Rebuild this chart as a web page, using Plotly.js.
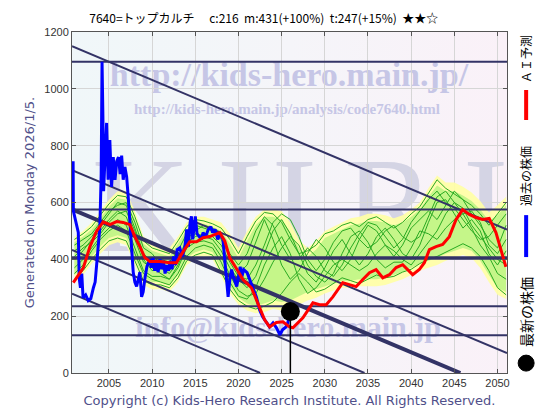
<!DOCTYPE html>
<html><head><meta charset="utf-8">
<script src="https://cdn.plot.ly/plotly-3.0.1.min.js"></script>
<style>
body{margin:0;padding:0;background:#fff;}
#wrap{position:relative;width:560px;height:420px;overflow:hidden;}
#bg{position:absolute;left:72px;top:32px;width:435px;height:341px;background:linear-gradient(90deg,#f0f7f9 0%,#f5f5f9 50%,#faf1f8 100%);}
.wm{position:absolute;font-family:"Liberation Serif",serif;font-weight:bold;color:#c6c6e6;white-space:nowrap;transform:translate(-50%,-50%);}
#plot{position:absolute;left:0;top:0;width:560px;height:420px;}
</style></head>
<body>
<div id="wrap">
 <div id="bg"></div>
 <div class="wm" style="left:289px;top:75px;font-size:34px;">http://kids-hero.main.jp/</div>
 <div class="wm" style="left:287px;top:109px;font-size:15px;">http://kids-hero.main.jp/analysis/code7640.html</div>
 <div class="wm" style="left:314px;top:205px;font-size:136px;font-weight:normal;color:#d4d4e4;letter-spacing:28px;">KHRI</div>
 <div class="wm" style="left:288px;top:327px;font-size:30px;">info@kids-hero.main.jp</div>
 <div id="plot"></div>
</div>
<script>
// ---- data ----
const blueX = [2000.85,2000.88,2001.45,2001.55,2001.7,2001.85,2002.0,2002.3,2002.6,2002.9,2003.2,2003.4,2003.6,2003.8,2003.95,2004.1,2004.2,2004.3,2004.38,2004.55,2004.73,2004.9,2005.1,2005.3,2005.5,2005.7,2005.9,2006.1,2006.3,2006.47,2006.65,2006.85,2007.05,2007.23,2007.43,2007.62,2007.81,2008.0,2008.2,2008.4,2008.58,2008.78,2008.96,2009.2,2009.4,2009.74,2009.9,2010.1,2010.3,2010.5,2010.7,2010.9,2011.1,2011.3,2011.5,2011.7,2011.9,2012.1,2012.3,2012.5,2012.7,2012.9,2013.2,2013.5,2013.8,2014.0,2014.2,2014.4,2014.55,2014.7,2015.0,2015.2,2015.45,2015.7,2015.9,2016.2,2016.5,2016.8,2017.0,2017.3,2017.6,2017.9,2018.2,2018.4,2018.6,2018.8,2019.0,2019.2,2019.4,2019.8,2020.0,2020.2,2020.4,2020.6,2021.0,2021.3,2021.7,2022.07,2022.45,2022.8,2023.2,2023.6,2024.0,2024.4,2024.8,2025.1,2025.5,2025.7,2026.01];
const blueY = [745,570,495,335,300,350,265,275,255,262,300,320,390,450,515,700,1095,900,640,760,880,680,820,655,760,680,745,760,700,765,680,725,690,620,515,425,355,320,305,330,355,268,285,340,375,400,370,405,360,390,355,400,365,395,350,380,360,395,365,410,380,434,440,410,445,505,445,530,551,470,551,490,480,470,494,480,505,515,494,505,470,490,470,400,360,268,329,364,339,304,339,374,339,364,353,329,304,268,222,198,180,162,176,159,134,152,162,176,216];

const redX = [2000.87,2002.03,2002.8,2003.58,2004.34,2005.11,2005.89,2006.65,2007.43,2008.0,2008.58,2009.16,2009.74,2010.9,2012.05,2012.82,2013.59,2014.36,2015.14,2015.9,2016.67,2017.83,2018.41,2018.99,2019.76,2020.52,2021.5,2022.07,2022.45,2023.03,2023.61,2024.39,2025.15,2025.92,2026.3,2027.46,2028.62,2029.39,2030.16,2030.93,2032.08,2032.86,2033.63,2034.4,2035.17,2035.94,2036.71,2037.48,2038.26,2039.02,2039.6,2040.18,2040.95,2041.53,2042.11,2042.88,2043.65,2044.42,2045.2,2045.96,2046.73,2047.5,2048.27,2049.04,2049.82,2050.4,2050.97];
const redY = [318,370,445,500,532,522,533,530,522,480,445,406,392,392,388,388,427,462,462,476,480,494,465,405,368,329,300,258,233,187,162,178,180,162,159,194,247,240,240,268,318,311,304,329,353,364,335,346,371,381,364,346,364,388,434,445,452,480,540,575,558,547,540,544,494,434,374];

const gYears = [2001,2002,2003,2004,2005,2006,2007,2008,2009,2010,2011,2012,2013,2014,2015,2016,2017,2018,2019,2020,2021,2022,2023,2024,2025,2026,2027,2028,2029,2030,2031,2032,2033,2034,2035,2036,2037,2038,2039,2040,2041,2042,2043,2044,2045,2046,2047,2048,2049,2050,2051];
const envUpper = [480,500,530,570,610,640,640,570,480,460,450,440,480,530,550,550,540,530,490,440,500,550,575,575,570,530,470,440,465,500,515,530,545,550,560,560,555,545,555,575,600,650,695,670,670,655,635,605,565,590,620];
const envLower = [320,345,385,420,450,460,450,380,310,295,295,285,320,380,400,410,400,340,280,240,220,210,215,225,220,225,240,255,265,280,290,300,300,305,305,305,310,320,330,345,360,370,380,395,405,415,405,370,320,275,260];
const greenUpper = [460,480,505,545,585,615,610,540,455,430,420,410,455,505,525,525,515,500,455,405,465,520,550,550,540,495,440,410,435,475,490,505,520,525,535,535,530,520,530,550,575,620,660,640,640,625,605,575,535,555,590];
const greenLower = [345,370,410,445,475,485,475,405,335,320,320,310,345,405,425,435,425,365,305,265,245,235,245,255,250,255,270,285,295,305,315,325,325,330,330,330,335,345,355,370,385,395,405,420,430,440,430,395,345,300,285];
const g1 = [470,490,515,555,595,625,620,550,465,440,430,420,465,515,540,535,525,510,470,420,480,535,565,560,530,470,420,430,450,490,500,520,530,515,540,550,530,510,530,560,585,635,680,650,630,610,590,560,520,560,600];
const g2 = [330,360,400,435,465,475,465,395,325,310,310,300,335,395,415,425,415,355,295,255,235,225,235,250,280,320,350,320,285,295,315,335,325,315,330,345,335,340,355,365,385,400,410,425,440,455,440,410,360,300,275];
const g3 = [400,430,470,500,540,570,550,470,390,370,350,330,380,450,490,480,470,430,370,330,300,340,420,500,540,490,420,350,320,370,430,470,420,380,420,480,510,470,420,400,450,530,600,610,560,510,540,500,420,380,430];
const g4 = [430,450,480,520,560,600,590,510,420,390,400,390,430,490,520,510,500,470,410,350,380,460,540,470,380,330,360,420,470,440,390,360,400,470,520,500,450,410,450,510,540,570,540,590,640,610,560,520,470,440,520];
const g5 = [370,400,440,480,510,540,520,440,360,340,340,330,370,440,460,465,455,410,345,290,270,280,330,390,440,480,450,380,340,320,350,420,480,500,460,400,370,390,390,440,500,490,470,510,540,560,510,450,410,350,330];
const g6 = [450,470,490,530,570,590,600,530,440,420,380,360,400,470,500,520,510,480,420,380,420,500,550,520,450,400,400,440,410,360,340,380,440,490,530,520,480,440,470,530,570,610,640,600,580,540,500,470,480,520,560];
const g7 = [350,380,430,470,500,520,500,420,350,330,320,310,350,410,440,450,440,390,320,270,260,300,380,440,480,420,330,280,300,340,380,400,380,360,380,420,450,430,400,380,420,460,500,560,600,580,520,480,440,400,380];
const g8 = [410,440,460,490,530,560,570,500,400,360,370,350,390,460,480,490,480,450,390,340,330,380,450,530,560,540,480,400,360,400,460,500,510,470,440,460,500,520,480,460,480,550,620,640,600,560,570,530,450,420,470];

const levelVals = [1095,575,405,235,133];
const levelWidths = [2,2,3.5,2,2];
const trendX0 = [2000.72,2000.72,2000.72,2000.72,2000.72];
const trendY0 = [1150,714,576,433,279];
const trendX1 = [2051.1,2051.1,2045.7,2034.6,2022.5];
const trendY1 = [505,70,0,0,0];
const trendWidths = [2,2,4,2,2];

const latestX = [2026.01];
const latestY = [216];

const xTicks = [2005,2010,2015,2020,2025,2030,2035,2040,2045,2050];
const xRange = [2000.72,2051.1];

// ---- traces ----
const traces = [];
traces.push({x:gYears,y:envLower,mode:'lines',line:{width:0},hoverinfo:'skip',showlegend:false});
traces.push({x:gYears,y:envUpper,mode:'lines',line:{width:0},fill:'tonexty',fillcolor:'rgba(255,255,165,0.92)',hoverinfo:'skip',showlegend:false});
traces.push({x:gYears,y:greenLower,mode:'lines',line:{width:0},hoverinfo:'skip',showlegend:false});
traces.push({x:gYears,y:greenUpper,mode:'lines',line:{width:0},fill:'tonexty',fillcolor:'rgba(150,238,110,0.55)',hoverinfo:'skip',showlegend:false});
[g1,g2,g3,g4,g5,g6,g7,g8].forEach(g=>traces.push({x:gYears,y:g,mode:'lines',line:{color:'#2aaa22',width:1},showlegend:false}));
levelVals.forEach((v,i)=>traces.push({x:xRange,y:[v,v],mode:'lines',line:{color:'#333366',width:levelWidths[i]},showlegend:false}));
trendY0.forEach((v,i)=>traces.push({x:[trendX0[i],trendX1[i]],y:[v,trendY1[i]],mode:'lines',line:{color:'#333366',width:trendWidths[i]},showlegend:false}));
traces.push({x:blueX,y:blueY,mode:'lines',line:{color:'#0000ff',width:3},name:'過去の株価',showlegend:false});
traces.push({x:redX,y:redY,mode:'lines',line:{color:'#ff0000',width:3},name:'ＡＩ予測',showlegend:false});
traces.push({x:[latestX[0],latestX[0]],y:[0,latestY[0]],mode:'lines',line:{color:'#000',width:1.5},showlegend:false});
traces.push({x:latestX,y:latestY,mode:'markers',marker:{color:'#000',size:19},name:'最新の株価',showlegend:false});

const legFont = {family:'Noto Sans CJK JP, sans-serif',size:12,color:'#000'};
const layout = {
  width:560,height:420,
  margin:{l:72,r:53,t:32,b:47},
  paper_bgcolor:'rgba(0,0,0,0)',plot_bgcolor:'rgba(0,0,0,0)',
  showlegend:false,
  title:{text:'7640=トップカルチ\u3000 c:216\u00a0\u00a0m:431(+100%)\u00a0\u00a0t:247(+15%)\u00a0\u00a0★★☆',
    x:0.471,xref:'container',xanchor:'center',y:0.955,yref:'container',yanchor:'middle',
    font:{family:'Noto Sans CJK JP, sans-serif',size:12,color:'#000'}},
  xaxis:{range:xRange,tickvals:xTicks,showgrid:true,gridcolor:'#d6d6d6',gridwidth:1,
    linecolor:'#555',linewidth:1,mirror:'ticks',ticks:'inside',ticklen:4,tickcolor:'#555',zeroline:false,
    tickfont:{family:'Liberation Sans, Arial, sans-serif',size:11,color:'#333'},
    title:{text:'Copyright (c) Kids-Hero Research Institute. All Rights Reserved.',standoff:7,
      font:{family:'DejaVu Sans, sans-serif',size:13,color:'#50508a'}}},
  yaxis:{range:[0,1200],dtick:200,showgrid:true,gridcolor:'#d6d6d6',gridwidth:1,
    linecolor:'#555',linewidth:1,mirror:'ticks',ticks:'inside',ticklen:4,tickcolor:'#555',zeroline:false,
    tickfont:{family:'Liberation Sans, Arial, sans-serif',size:11,color:'#333'},
    title:{text:'Generated on Monday 2026/1/5.',standoff:6,
      font:{family:'DejaVu Sans, sans-serif',size:13,color:'#50508a'}}},
  annotations:[
    {text:'ＡＩ予測',xref:'paper',yref:'paper',x:1.044,y:0.921,textangle:-90,showarrow:false,font:legFont,xanchor:'center',yanchor:'middle'},
    {text:'過去の株価',xref:'paper',yref:'paper',x:1.044,y:0.578,textangle:-90,showarrow:false,font:legFont,xanchor:'center',yanchor:'middle'},
    {text:'最新の株価',xref:'paper',yref:'paper',x:1.044,y:0.179,textangle:-90,showarrow:false,font:{family:'Noto Sans CJK JP, sans-serif',size:14,color:'#000'},xanchor:'center',yanchor:'middle'}
  ],
  shapes:[
    {type:'line',xref:'paper',yref:'paper',x0:1.044,x1:1.044,y0:0.742,y1:0.830,line:{color:'#ff0000',width:4}},
    {type:'line',xref:'paper',yref:'paper',x0:1.044,x1:1.044,y0:0.340,y1:0.463,line:{color:'#0000ff',width:4}},
    {type:'circle',xref:'paper',yref:'paper',xsizemode:'pixel',ysizemode:'pixel',xanchor:1.044,yanchor:0.029,x0:-8,x1:8,y0:-8,y1:8,fillcolor:'#000',line:{color:'#000',width:1}}
  ]
};
Plotly.newPlot('plot',traces,layout,{staticPlot:true,displayModeBar:false});
</script>
</body></html>
